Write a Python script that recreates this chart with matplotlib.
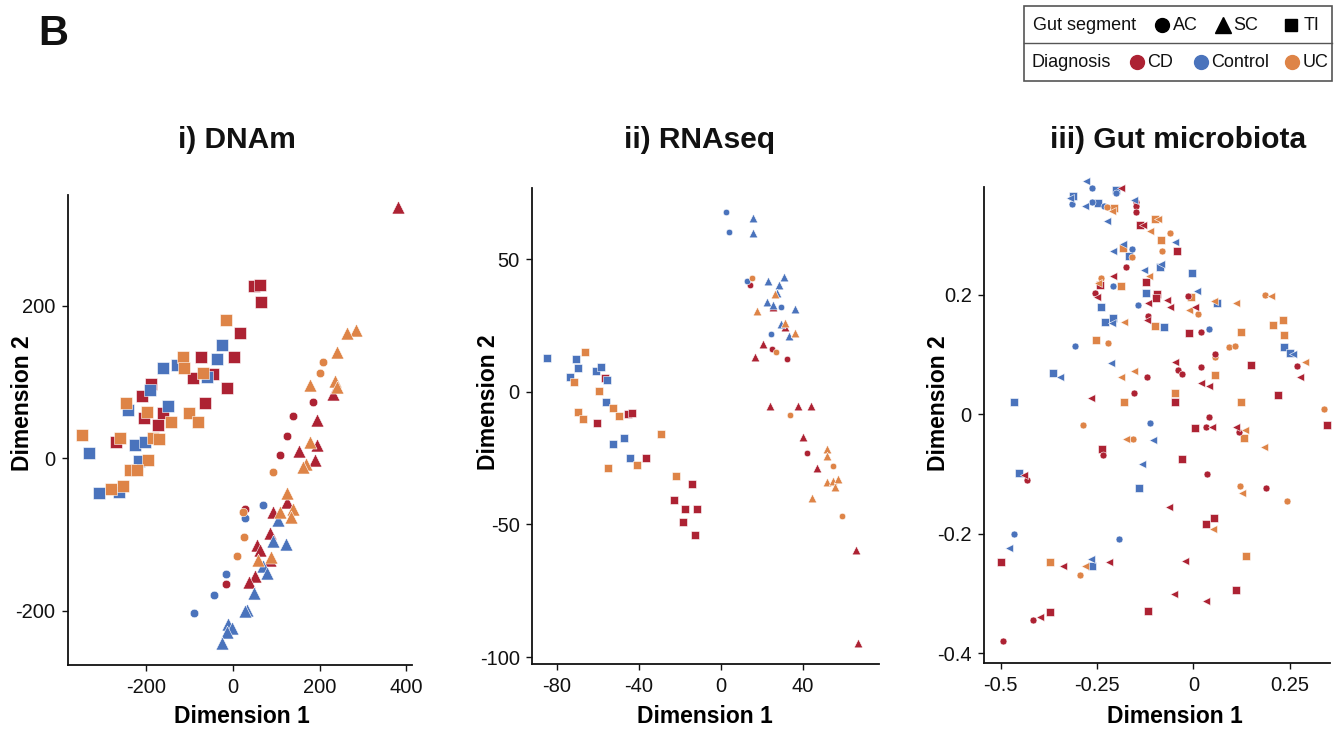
import numpy as np
import matplotlib
matplotlib.use("Agg")
import matplotlib.pyplot as plt
from matplotlib.patches import Rectangle

plt.rcParams['font.family'] = ['Liberation Sans', 'DejaVu Sans']
plt.rcParams['axes.unicode_minus'] = False

# diagnosis colours
CD_COL = '#AD2233'
CTRL_COL = '#4A73BC'
UC_COL = '#DE8447'

# ---------------- i) DNAm  (x, y) per gut segment / diagnosis
dnam_ti_cd = [(49, 226), (63, 227), (65, 205), (17, 165), (-73, 133), (4, 133), (-91, 106),
              (-45, 110), (-14, 92), (-188, 97), (-208, 82), (-204, 53), (-160, 59), (-64, 73),
              (-173, 44), (-269, 21)]
dnam_ti_ctrl = [(-25, 149), (-35, 130), (-160, 118), (-129, 122), (-58, 107), (-191, 90), (-242, 64),
                (-150, 69), (-331, 7), (-225, 18), (-202, 22), (-215, -4), (-308, -46), (-261, -44)]
dnam_ti_uc = [(-15, 182), (-114, 133), (-112, 118), (-69, 112), (-245, 72), (-198, 61), (-141, 48),
              (-100, 60), (-79, 48), (-346, 31), (-260, 26), (-183, 26), (-169, 25), (-195, -2),
              (-237, -16), (-220, -16), (-281, -41), (-252, -37)]
dnam_ac_cd = [(186, 74), (138, 56), (125, 29), (109, 4), (28, -66), (-15, -165)]
dnam_ac_ctrl = [(71, -61), (28, -79), (-16, -152), (-42, -179), (-89, -203)]
dnam_ac_uc = [(208, 127), (201, 112), (92, -18), (23, -71), (25, -104), (11, -128)]
dnam_sc_cd = [(380, 330), (231, 85), (194, 50), (152, 9), (194, 18), (190, -2), (125, -57),
              (92, -71), (86, -98), (57, -114), (63, -120), (86, -133), (52, -155), (38, -162)]
dnam_sc_ctrl = [(105, -81), (92, -109), (122, -112), (71, -142), (78, -151), (48, -177), (32, -199),
                (28, -201), (-10, -217), (-2, -223), (-14, -228), (-25, -243)]
dnam_sc_uc = [(285, 168), (263, 164), (240, 140), (235, 101), (240, 94), (178, 96), (178, 21),
              (169, -7), (163, -11), (126, -46), (140, -66), (134, -77), (109, -70), (88, -129),
              (59, -133)]

# ---------------- ii) RNAseq
rna_ti_cd = [(-56.3, 5.0), (-60.2, -11.9), (-45.2, -8.2), (-43.6, -7.9), (-36.6, -25.1), (-14.1, -34.9),
             (-22.9, -40.8), (-17.6, -44.0), (-11.5, -44.2), (-18.7, -49.0), (-12.8, -54.0)]
rna_ti_ctrl = [(-84.7, 12.6), (-70.9, 12.2), (-69.9, 8.8), (-73.7, 5.4), (-60.7, 7.8), (-58.4, 9.4),
               (-55.4, 4.6), (-56.1, -4.0), (-47.5, -17.6), (-52.4, -19.5), (-44.4, -25.1)]
rna_ti_uc = [(-66.2, 15.1), (-71.5, 3.8), (-59.3, 0.4), (-69.9, -7.8), (-67.2, -10.3), (-52.4, -6.3),
             (-49.6, -9.0), (-29.3, -16.1), (-41.1, -27.6), (-55.3, -28.9), (-22.0, -31.8)]
rna_ac_cd = [(14.1, 40.1), (24.7, 16.1), (32.0, 12.4), (41.8, -22.9)]
rna_ac_ctrl = [(2.3, 67.8), (4.1, 60.3), (12.5, 41.7), (29.3, 31.9), (24.2, 21.7)]
rna_ac_uc = [(15.3, 42.7), (26.7, 15.1), (33.7, -8.8), (54.5, -27.9), (59.0, -46.7)]
rna_sc_cd = [(25.2, 32.0), (31.2, 24.5), (20.3, 18.0), (16.4, 13.2), (23.9, -5.4), (37.4, -5.3),
             (43.9, -5.3), (40.2, -17.0), (46.7, -28.9), (65.7, -59.7), (66.7, -94.6)]
rna_sc_ctrl = [(15.8, 65.3), (15.8, 59.7), (23.1, 41.7), (30.7, 43.3), (28.3, 40.2), (27.5, 37.3),
               (22.3, 33.9), (25.5, 32.7), (36.1, 31.2), (29.1, 25.5), (33.2, 21.0)]
rna_sc_uc = [(26.3, 36.8), (17.4, 30.4), (31.2, 26.0), (36.3, 22.2), (51.9, -21.4), (51.9, -24.2),
             (51.5, -33.9), (54.5, -33.5), (57.2, -32.7), (55.6, -35.8), (44.2, -40.2)]

# ---------------- iii) Gut microbiota
mb_ac_ctrl = [(-0.263, 0.379), (-0.202, 0.370), (-0.314, 0.352), (-0.263, 0.355), (-0.231, 0.348),
              (-0.159, 0.277), (-0.209, 0.214), (-0.145, 0.183), (0.039, 0.143), (-0.308, 0.115),
              (-0.112, -0.015), (-0.464, -0.200), (-0.194, -0.209)]
mb_sc_ctrl = [(-0.278, 0.390), (-0.321, 0.362), (-0.281, 0.348), (-0.155, 0.358), (-0.224, 0.323),
              (-0.047, 0.288), (-0.183, 0.285), (-0.209, 0.274), (-0.127, 0.242), (-0.083, 0.252),
              (0.010, 0.206), (-0.211, 0.152), (0.258, 0.100), (-0.213, 0.085), (-0.345, 0.062),
              (-0.104, -0.044), (-0.134, -0.083), (-0.479, -0.224), (-0.265, -0.243)]
mb_ti_ctrl = [(-0.200, 0.376), (-0.312, 0.366), (-0.248, 0.354), (-0.166, 0.265), (-0.086, 0.247),
              (-0.004, 0.237), (-0.239, 0.179), (-0.122, 0.203), (0.061, 0.187), (-0.229, 0.154),
              (-0.209, 0.161), (-0.076, 0.146), (0.235, 0.113), (0.251, 0.103), (-0.364, 0.069),
              (-0.466, 0.020), (-0.451, -0.099), (-0.140, -0.123), (-0.263, -0.254)]
mb_ac_cd = [(-0.148, 0.356), (-0.148, 0.348), (-0.150, 0.338), (-0.176, 0.246), (-0.254, 0.203),
            (-0.015, 0.198), (-0.118, 0.165), (0.020, 0.138), (0.057, 0.100), (0.020, 0.079),
            (0.269, 0.080), (-0.039, 0.074), (-0.030, 0.067), (-0.121, 0.063), (-0.154, 0.036),
            (0.039, -0.005), (0.032, -0.021), (0.117, -0.029), (-0.235, -0.069), (-0.432, -0.110),
            (0.035, -0.100), (0.188, -0.124), (-0.415, -0.344), (-0.494, -0.379)]
mb_sc_cd = [(-0.187, 0.379), (-0.131, 0.317), (-0.209, 0.231), (-0.250, 0.197), (-0.119, 0.187),
            (-0.069, 0.192), (-0.060, 0.180), (0.003, 0.179), (-0.121, 0.158), (0.275, 0.063),
            (-0.047, 0.088), (0.019, 0.053), (0.041, 0.048), (-0.265, 0.027), (0.049, -0.021),
            (0.111, -0.022), (-0.438, -0.101), (-0.063, -0.155), (-0.338, -0.254), (-0.218, -0.248),
            (-0.023, -0.245), (-0.050, -0.301), (0.032, -0.312), (-0.399, -0.339)]
mb_ti_cd = [(-0.138, 0.317), (-0.043, 0.273), (-0.123, 0.222), (-0.242, 0.217), (-0.095, 0.202),
            (-0.098, 0.195), (-0.012, 0.136), (0.150, 0.082), (-0.049, 0.021), (0.218, 0.033),
            (0.346, -0.018), (0.003, -0.023), (-0.237, -0.058), (-0.030, -0.075), (0.033, -0.183),
            (0.054, -0.173), (-0.499, -0.248), (0.111, -0.294), (-0.117, -0.329), (-0.371, -0.331)]
mb_ac_uc = [(-0.224, 0.347), (-0.062, 0.303), (-0.081, 0.273), (-0.159, 0.264), (-0.240, 0.228),
            (0.011, 0.168), (0.186, 0.200), (-0.222, 0.120), (0.093, 0.112), (0.108, 0.115),
            (0.057, 0.096), (0.339, 0.009), (-0.287, -0.018), (-0.157, -0.042), (0.121, -0.120),
            (0.242, -0.146), (-0.295, -0.270)]
mb_sc_uc = [(-0.211, 0.341), (-0.091, 0.327), (-0.112, 0.306), (-0.115, 0.232), (-0.248, 0.220),
            (-0.012, 0.175), (0.052, 0.190), (0.111, 0.187), (0.201, 0.198), (-0.181, 0.155),
            (0.289, 0.088), (-0.154, 0.073), (-0.187, 0.062), (0.134, -0.027), (-0.175, -0.041),
            (0.184, -0.055), (0.125, -0.132), (0.050, -0.192), (-0.281, -0.254)]
mb_ti_uc = [(-0.205, 0.345), (-0.099, 0.327), (-0.084, 0.291), (-0.182, 0.279), (-0.187, 0.214),
            (-0.006, 0.197), (0.232, 0.158), (0.206, 0.149), (0.235, 0.132), (0.123, 0.137),
            (-0.101, 0.148), (-0.252, 0.125), (0.056, 0.066), (-0.047, 0.036), (-0.181, 0.020),
            (0.123, 0.020), (0.131, -0.040), (-0.371, -0.248), (0.137, -0.237)]


fig = plt.figure(figsize=(13.42, 7.30), dpi=100)


def style_axis(ax, xlim, ylim, xticks, yticks, xlab_pos, ylab_pos, xlabels=None, ylabels=None):
    ax.set_xlim(*xlim)
    ax.set_ylim(*ylim)
    ax.set_xticks(xticks)
    ax.set_yticks(yticks)
    if xlabels is not None:
        ax.set_xticklabels(xlabels)
    if ylabels is not None:
        ax.set_yticklabels(ylabels)
    for s in ['top', 'right']:
        ax.spines[s].set_visible(False)
    for s in ['left', 'bottom']:
        ax.spines[s].set_linewidth(1.3)
        ax.spines[s].set_color('#111111')
    ax.tick_params(length=4, width=1.0, pad=5, labelsize=14.5, colors='#111111')
    ax.set_xlabel('Dimension 1', fontsize=16.5, fontweight='bold')
    ax.set_ylabel('Dimension 2', fontsize=16.5, fontweight='bold')
    ax.xaxis.set_label_coords(*xlab_pos)
    ax.yaxis.set_label_coords(*ylab_pos)


def draw(ax, pts, marker, color, size):
    pts = np.array(pts)
    ax.scatter(pts[:, 0], pts[:, 1], marker=marker, s=size, color=color,
               edgecolors='white', linewidths=0.4, clip_on=False, zorder=3)


# panel i
ax1 = fig.add_axes([0.0504, 0.0890, 0.2563, 0.6438])
for pts, col in [(dnam_ti_cd, CD_COL), (dnam_ti_ctrl, CTRL_COL), (dnam_ti_uc, UC_COL)]:
    draw(ax1, pts, 's', col, 70)
for pts, col in [(dnam_ac_cd, CD_COL), (dnam_ac_ctrl, CTRL_COL), (dnam_ac_uc, UC_COL)]:
    draw(ax1, pts, 'o', col, 38)
for pts, col in [(dnam_sc_cd, CD_COL), (dnam_sc_ctrl, CTRL_COL), (dnam_sc_uc, UC_COL)]:
    draw(ax1, pts, '^', col, 88)
style_axis(ax1, (-380, 412), (-271.5, 345.6), [-200, 0, 200, 400], [-200, 0, 200],
           (0.506, -0.085), (-0.097, 0.557))

# panel ii
ax2 = fig.add_axes([0.3966, 0.0904, 0.2583, 0.6521])
for pts, col in [(rna_ti_cd, CD_COL), (rna_ti_ctrl, CTRL_COL), (rna_ti_uc, UC_COL)]:
    draw(ax2, pts, 's', col, 30)
for pts, col in [(rna_ac_cd, CD_COL), (rna_ac_ctrl, CTRL_COL), (rna_ac_uc, UC_COL)]:
    draw(ax2, pts, 'o', col, 22)
for pts, col in [(rna_sc_cd, CD_COL), (rna_sc_ctrl, CTRL_COL), (rna_sc_uc, UC_COL)]:
    draw(ax2, pts, '^', col, 39)
style_axis(ax2, (-92, 77), (-102.6, 76.8), [-80, -40, 0, 40], [-100, -50, 0, 50],
           (0.497, -0.086), (-0.093, 0.551))

# panel iii
ax3 = fig.add_axes([0.7335, 0.0914, 0.2576, 0.6529])
for pts, col in [(mb_ti_ctrl, CTRL_COL), (mb_ti_uc, UC_COL), (mb_ti_cd, CD_COL)]:
    draw(ax3, pts, 's', col, 29)
for pts, col in [(mb_ac_ctrl, CTRL_COL), (mb_ac_uc, UC_COL), (mb_ac_cd, CD_COL)]:
    draw(ax3, pts, 'o', col, 25)
for pts, col in [(mb_sc_ctrl, CTRL_COL), (mb_sc_uc, UC_COL), (mb_sc_cd, CD_COL)]:
    draw(ax3, pts, '<', col, 33)
style_axis(ax3, (-0.542, 0.354), (-0.417, 0.381), [-0.5, -0.25, 0, 0.25], [-0.4, -0.2, 0, 0.2],
           (0.55, -0.0875), (-0.099, 0.546),
           ['-0.5', '-0.25', '0', '0.25'], ['-0.4', '-0.2', '0', '0.2'])

# panel titles
for xc, t in [(237, 'i) DNAm'), (700, 'ii) RNAseq'), (1178, 'iii) Gut microbiota')]:
    fig.text(xc / 1342, 1 - 140 / 730, t, fontsize=21.5, fontweight='bold',
             ha='center', va='center', color='#111111')

# panel letter
fig.text(38 / 1342, 1 - 45 / 730, 'B', fontsize=30, fontweight='bold', va='baseline', color='#111111')

# legend box (pixel-like coordinates inside its own axes)
lg = fig.add_axes([1024 / 1342, 1 - 80.7 / 730, 308.3 / 1342, 74.7 / 730])
lg.set_xlim(0, 308.3)
lg.set_ylim(74.7, 0)
lg.axis('off')
lg.add_patch(Rectangle((0, 0), 308.3, 74.7, fill=False, edgecolor='#555555', lw=1.2, clip_on=False))
lg.plot([0, 308.3], [37.3, 37.3], color='#555555', lw=1.0, clip_on=False)

fs = 13
lg.text(9.3, 19, 'Gut segment', fontsize=fs, va='center', color='#111111')
for mx, mk, ms, tx, lab in [(137.7, 'o', 10, 148.7, 'AC'), (198.7, '^', 11, 209.3, 'SC'),
                            (266.7, 's', 9, 279.3, 'TI')]:
    lg.plot([mx], [19], marker=mk, markersize=ms, color='black', linestyle='none', clip_on=False)
    lg.text(tx, 19, lab, fontsize=fs, va='center', color='#111111')

lg.text(7.7, 56.3, 'Diagnosis', fontsize=fs, va='center', color='#111111')
for mx, col, tx, lab in [(112.7, CD_COL, 122.7, 'CD'), (177, CTRL_COL, 186.7, 'Control'),
                         (267.7, UC_COL, 278.7, 'UC')]:
    lg.plot([mx], [56.3], marker='o', markersize=10, color=col, linestyle='none', clip_on=False)
    lg.text(tx, 56.3, lab, fontsize=fs, va='center', color='#111111')

plt.savefig('out.png', dpi=100)
